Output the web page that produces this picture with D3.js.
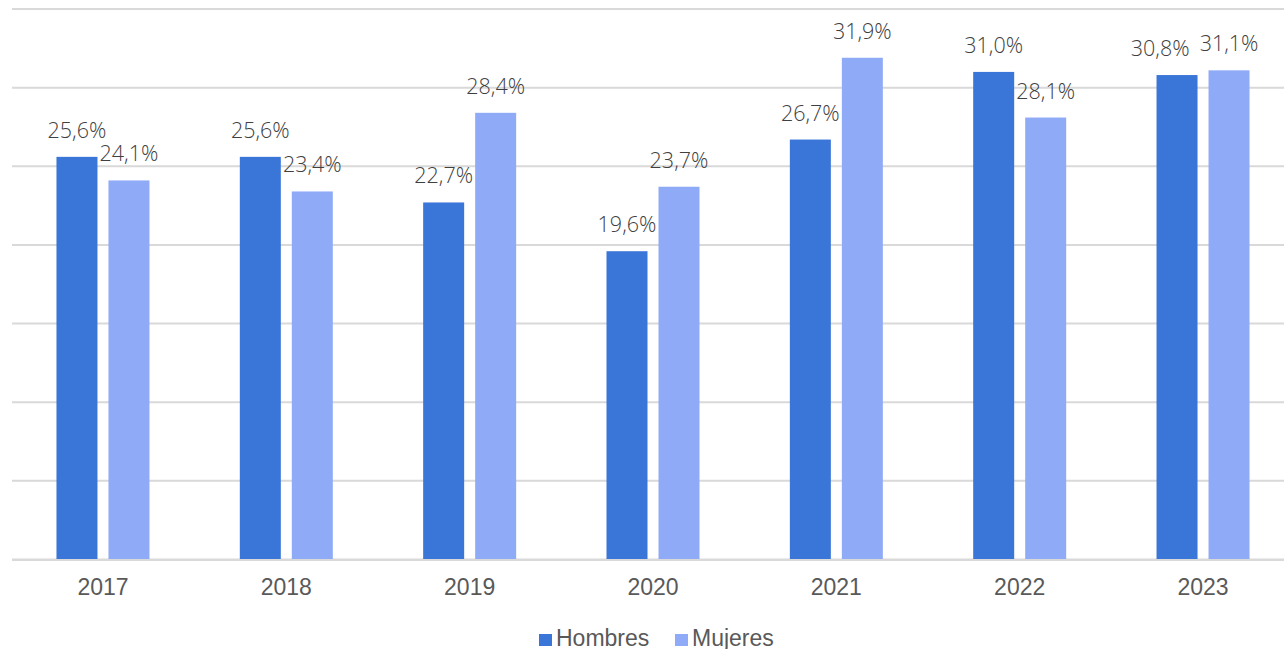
<!DOCTYPE html>
<html>
<head>
<meta charset="utf-8">
<script src="https://cdn.jsdelivr.net/npm/d3@7"></script>
<style>
  html, body { margin: 0; padding: 0; background: #fff; }
  svg { display: block; }
</style>
</head>
<body>
<svg id="chart" width="1284" height="649"></svg>
<script>
const years = ["2017", "2018", "2019", "2020", "2021", "2022", "2023"];
const hombres = [25.6, 25.6, 22.7, 19.6, 26.7, 31.0, 30.8];
const mujeres = [24.1, 23.4, 28.4, 23.7, 31.9, 28.1, 31.1];
const seriesNames = ["Hombres", "Mujeres"];
const seriesColors = ["#3a75d8", "#8fabf7"];
const yTicks = [0, 5, 10, 15, 20, 25, 30, 35];

const svg = d3.select("#chart");
const W = 1284;

const x = d3.scaleBand().domain(years).range([11.3, 1294.7]).paddingInner(0).paddingOuter(0);
const y = d3.scaleLinear().domain([0, 35]).range([559.5, 9]);

// gridlines
svg.append("g").selectAll("line").data(yTicks).join("line")
  .attr("x1", 12).attr("x2", W)
  .attr("y1", d => y(d)).attr("y2", d => y(d))
  .attr("stroke", "#d9d9d9").attr("stroke-width", 2);

const barW = 41;
const gap = 11;
const offsets = [-(gap / 2 + barW), gap / 2];

const data = years.flatMap((yr, i) => [
  { yr, s: 0, v: hombres[i] },
  { yr, s: 1, v: mujeres[i] }
]);

const fmt = v => v.toFixed(1).replace(".", ",") + "%";

svg.append("g").selectAll("rect").data(data).join("rect")
  .attr("x", d => x(d.yr) + x.bandwidth() / 2 + offsets[d.s])
  .attr("width", barW)
  .attr("y", d => y(d.v))
  .attr("height", d => y(0) - y(d.v))
  .attr("fill", d => seriesColors[d.s]);

// baseline
svg.append("line").attr("x1", 12).attr("x2", W)
  .attr("y1", y(0) + 0.5).attr("y2", y(0) + 0.5)
  .attr("stroke", "#d9d9d9").attr("stroke-width", 2);

// data labels
const labels = svg.append("g").selectAll("text").data(data).join("text")
  .attr("x", d => x(d.yr) + x.bandwidth() / 2 + offsets[d.s] + barW / 2)
  .attr("y", d => y(d.v) - 19)
  .attr("text-anchor", "middle")
  .attr("font-family", "'Open Sans', sans-serif")
  .attr("font-weight", 300)
  .attr("font-size", 21.5)
  .attr("fill", "#404040")
  .text(d => fmt(d.v));

// overlap avoidance: shift the left label leftwards if it collides with its neighbour on the same line
const nodes = labels.nodes();
for (let i = 0; i < nodes.length; i += 2) {
  const a = nodes[i].getBBox(), b = nodes[i + 1].getBBox();
  const dy = Math.abs(+nodes[i].getAttribute("y") - +nodes[i + 1].getAttribute("y"));
  const over = a.x + a.width + 10 - b.x;
  if (dy < 18 && over > 0) {
    const cx = +nodes[i].getAttribute("x");
    nodes[i].setAttribute("x", cx - over);
  }
}

// x axis labels
svg.append("g").selectAll("text").data(years).join("text")
  .attr("x", d => x(d) + x.bandwidth() / 2)
  .attr("y", 595)
  .attr("text-anchor", "middle")
  .attr("font-family", "'Liberation Sans', Arial, sans-serif")
  .attr("font-size", 23)
  .attr("fill", "#595959")
  .text(d => d);

// legend
const legendItems = [
  { name: seriesNames[0], color: seriesColors[0], sx: 539, tx: 556 },
  { name: seriesNames[1], color: seriesColors[1], sx: 675, tx: 692 }
];
const lg = svg.append("g");
lg.selectAll("rect").data(legendItems).join("rect")
  .attr("x", d => d.sx).attr("y", 634).attr("width", 13).attr("height", 12)
  .attr("fill", d => d.color);
lg.selectAll("text").data(legendItems).join("text")
  .attr("x", d => d.tx).attr("y", 646)
  .attr("font-family", "'Liberation Sans', Arial, sans-serif")
  .attr("font-size", 23)
  .attr("fill", "#595959")
  .text(d => d.name);
</script>
</body>
</html>
